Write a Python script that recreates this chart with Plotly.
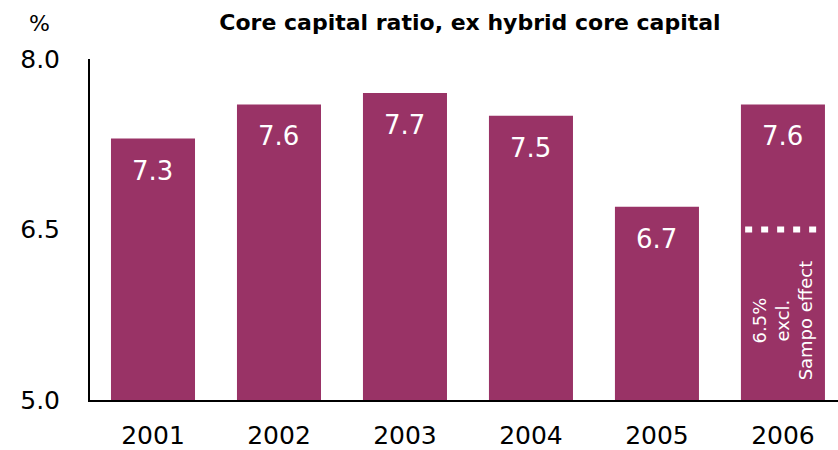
import plotly.graph_objects as go

years = ["2001", "2002", "2003", "2004", "2005", "2006"]
core_ratio = [7.3, 7.6, 7.7, 7.5, 6.7, 7.6]
excl_sampo = 6.5
y_ticks = [5.0, 6.5, 8.0]

bar_color = "#993366"
font_family = "'DejaVu Sans', sans-serif"

fig = go.Figure()
fig.add_trace(go.Bar(
    x=years, y=core_ratio, marker=dict(color=bar_color, line=dict(width=0)),
    hoverinfo="skip",
))

# value labels inside the top of each bar (category index positions)
for i, v in enumerate(core_ratio):
    fig.add_annotation(
        x=i, y=v, yshift=-32, text=f"{v:.1f}", showarrow=False,
        font=dict(size=26, color="white", family=font_family),
    )

# dotted marker for the ratio excluding the Sampo effect
idx = years.index("2006")
fig.add_shape(
    type="line", xref="x", yref="y",
    x0=idx - 0.30, x1=idx + 0.29, y0=excl_sampo, y1=excl_sampo,
    line=dict(color="white", width=6, dash="7px,9px"),
)
fig.add_annotation(
    x=idx, y=5.70, text=f"{excl_sampo}%<br>excl.<br>Sampo effect",
    textangle=-90, showarrow=False, align="center",
    font=dict(size=18, color="white", family=font_family),
)

fig.add_annotation(
    xref="paper", yref="paper", x=-0.067, y=1.0, yshift=36,
    yanchor="middle", xanchor="center",
    text="%", showarrow=False,
    font=dict(size=22, color="black", family=font_family),
)

fig.update_layout(
    width=838, height=450,
    margin=dict(l=90, r=0, t=59, b=50, autoexpand=False),
    paper_bgcolor="white", plot_bgcolor="white",
    bargap=0.333,
    showlegend=False,
    title=dict(
        text="<b>Core capital ratio, ex hybrid core capital</b>",
        x=470 / 838, xanchor="center", y=1 - 22 / 450, yanchor="middle",
        font=dict(size=22, color="black", family=font_family),
    ),
    xaxis=dict(
        type="category", automargin=False,
        range=[-0.5, 5.437], showgrid=False, zeroline=False,
        showline=True, linecolor="black", linewidth=2,
        ticks="", ticklabelstandoff=12,
        tickfont=dict(size=25, color="black", family=font_family),
    ),
    yaxis=dict(
        automargin=False,
        range=[5.0, 8.0], tickvals=y_ticks, tickformat=".1f",
        showgrid=False, zeroline=False,
        showline=True, linecolor="black", linewidth=2,
        ticks="", ticklabelstandoff=23,
        tickfont=dict(size=25, color="black", family=font_family),
    ),
)

fig.write_html("out.html")
